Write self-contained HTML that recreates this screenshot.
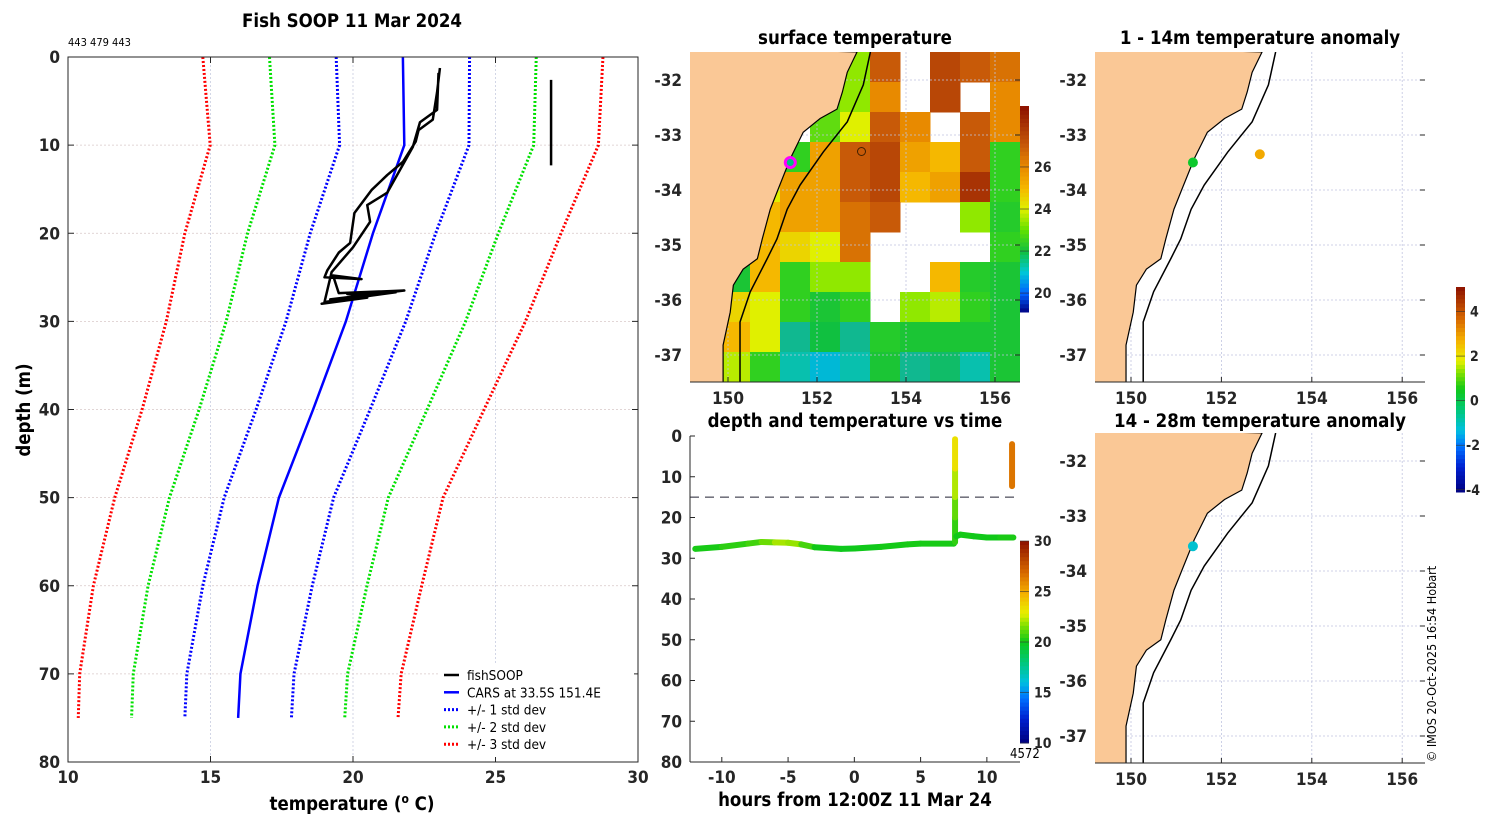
<!DOCTYPE html>
<html><head><meta charset="utf-8"><style>
html,body{margin:0;padding:0;background:#fff;}
svg{display:block;font-family:"DejaVu Sans Condensed","DejaVu Sans","Liberation Sans",sans-serif;}
.tk{font-size:17px;font-weight:bold;fill:#262626;}
.ti{font-size:18.5px;font-weight:bold;fill:#000;}
</style></head><body>
<svg id="fig" width="1500" height="820" viewBox="0 0 1500 820" xmlns="http://www.w3.org/2000/svg">
<rect width="1500" height="820" fill="#fff"/>
<g id="p1"></g>
<g id="p2"></g>
<g id="p3"></g>
<g id="p4"></g>
<g id="p5"></g>
<text x="352" y="27" text-anchor="middle" class="ti">Fish SOOP 11 Mar 2024</text>
<text x="68" y="46" font-size="11">443 479 443</text>
<text x="855" y="44" text-anchor="middle" class="ti">surface temperature</text>
<text x="1260" y="44" text-anchor="middle" class="ti">1 - 14m temperature anomaly</text>
<text x="855" y="427" text-anchor="middle" class="ti">depth and temperature vs time</text>
<text x="1260" y="427" text-anchor="middle" class="ti">14 - 28m temperature anomaly</text>
<text transform="translate(30,410) rotate(-90)" text-anchor="middle" class="ti">depth (m)</text>
<text x="352" y="810" text-anchor="middle" class="ti">temperature (<tspan font-size="12" dy="-7">o</tspan><tspan dy="7"> C)</tspan></text>
<text x="855" y="806" text-anchor="middle" class="ti">hours from 12:00Z 11 Mar 24</text>
<text transform="translate(1436,762) rotate(-90)" font-size="12.5" fill="#000">© IMOS 20-Oct-2025 16:54 Hobart</text>
</svg>
<script>
// ---------- data ----------
const carsDepth=[0,10,20,30,40,50,60,70,75];
const carsMean=[21.75,21.8,20.7,19.75,18.6,17.4,16.65,16.05,15.97];
const carsStd=[2.34,2.27,2.2,2.1,2.0,1.92,1.92,1.88,1.87];
const fishT=[23.05,22.95,22.8,22.3,22.2,21.75,21.2,20.65,20.05,19.9,19.5,19.1,19.0,20.3,19.3,19.5,21.8,19.2,21.0,18.9,20.5,19.8,21.5,19.0,19.25,20.0,20.6,20.5,21.2,22.1,22.35,22.95,23.0];
const fishD=[1.25,4.0,7.1,8.3,9.6,11.9,13.4,15.1,17.7,21.1,22.2,24.2,25.0,25.2,24.8,26.8,26.5,27.5,26.8,28.0,27.3,26.9,26.7,27.8,24.4,21.6,18.7,16.8,15.4,10.2,7.4,6.0,1.8];
const fish2T=[26.95,26.95];
const fish2D=[2.6,12.3];
const tempTicks=[10,15,20,25,30];
const depthTicks=[0,10,20,30,40,50,60,70,80];
const coastLon=[152.9,152.68,152.57,152.45,152.07,151.69,151.4,151.13,150.95,150.77,150.66,150.34,150.12,150.05,149.89,149.89];
const coastLat=[-31.49,-31.86,-32.22,-32.53,-32.7,-32.95,-33.43,-33.98,-34.35,-34.89,-35.25,-35.44,-35.73,-36.22,-36.82,-37.5];
const shelfLon=[153.2,153.04,152.68,152.14,151.62,151.33,151.1,150.88,150.5,150.27,150.27];
const shelfLat=[-31.49,-32.09,-32.76,-33.31,-33.91,-34.35,-34.89,-35.25,-35.85,-36.4,-37.5];
const lonTicks=[150,152,154,156];
const latTicks=[-32,-33,-34,-35,-36,-37];
const sstGrid=[
[null,null,null,null,null,23,27,null,27.5,27,26.5],
[null,null,null,null,22.5,23,26,null,27.5,null,26],
[null,null,null,null,22.5,24,27,26,null,27,26],
[null,null,null,22,25.5,27,27.5,25.5,25,27,22],
[null,null,24,25.5,25.5,27,27.5,25,25.5,28,22],
[null,null,25,25.5,25.5,26.5,27,null,null,23,21.5],
[null,null,25,24.5,24,26.5,null,null,null,null,22],
[null,21,25,22,23,23,null,null,25,21.5,21],
[null,24.5,24,22,21,22,null,23,23.5,22,21],
[null,25,24,19.5,20.5,19.5,21.5,21,21,21,21],
[null,23.5,22,19,18,19,21,19.5,20,19,21]];
const sstTicks=[20,22,24,26];
const anomTicks=[-4,-2,0,2,4];
const anom1Lon=[151.37,152.85], anom1Lat=[-33.5,-33.35], anom1Val=[0.3,2.8];
const anom2Lon=[151.37], anom2Lat=[-33.55], anom2Val=[-1.2];
const hrTicks=[-10,-5,0,5,10];
const tdTicks=[0,10,20,30,40,50,60,70,80];
const tcTicks=[10,15,20,25,30];
const trkH=[-12,-10,-8,-7,-6,-5,-4,-3,-1,0,2,4,5,7.5,7.6,7.6,7.6,7.6,7.6];
const trkD=[27.7,27.2,26.4,26.0,26.1,26.2,26.6,27.3,27.7,27.6,27.2,26.6,26.4,26.4,26.0,20,15,8,0.8];
const trkT=[20.0,20.2,20.6,20.8,21.8,22.3,21.4,20.1,19.9,19.9,20.0,20.1,20.1,20.1,20.1,20.8,21.5,22.8,23.8];
const trk2H=[7.7,8.0,9,10,11,12];
const trk2D=[24.6,24.2,24.6,24.9,24.9,24.9];
const trk2T=[19.9,20.1,20.0,19.9,20.1,20.2];
const trk3H=[11.9,11.9];
const trk3D=[2,12.3];
const trk3T=[26.5,26.5];

// ---------- helpers ----------
const NS='http://www.w3.org/2000/svg';
function el(tag,attrs,parent){const e=document.createElementNS(NS,tag);for(const k in attrs)e.setAttribute(k,attrs[k]);parent.appendChild(e);return e;}
function hex(h){return [parseInt(h.substr(1,2),16),parseInt(h.substr(3,2),16),parseInt(h.substr(5,2),16)];}
const cmapStops=[[0,'#00007f'],[0.12,'#0020d0'],[0.22,'#0070ff'],[0.3,'#00c0e0'],[0.4,'#00c878'],[0.5,'#10c818'],[0.58,'#80e000'],[0.64,'#e8f000'],[0.74,'#f5b000'],[0.84,'#d86a00'],[1,'#8c1000']];
const sstBarStops=[[19.1,'#000080'],[20,'#0060ff'],[21,'#00c8d8'],[22,'#10c040'],[23,'#60e000'],[24,'#e0f000'],[25,'#f5b800'],[26,'#e88a00'],[27,'#c85a08'],[28.9,'#8c1000']];
const sstStops=[[17.5,'#00a8e0'],[18.5,'#00c8cc'],[19.5,'#10b890'],[20.5,'#10c040'],[22,'#30d020'],[23,'#90e800'],[24,'#e0f000'],[25,'#f5b800'],[26,'#e88a00'],[27,'#c85a08'],[28.9,'#8c1000']];
function interp(stops,v){if(v<=stops[0][0])return stops[0][1];for(let i=1;i<stops.length;i++){if(v<=stops[i][0]){const a=stops[i-1],b=stops[i];const f=(v-a[0])/(b[0]-a[0]);const ca=hex(a[1]),cb=hex(b[1]);return 'rgb('+ca.map((c,j)=>Math.round(c+(cb[j]-c)*f)).join(',')+')';}}return stops[stops.length-1][1];}
function cmap(t){return interp(cmapStops,t);}

// ---------- panel 1 ----------
(function(){
const g=document.getElementById('p1');
const L=68,R=638,T=57,B=762;
const x=v=>L+(v-10)/20*(R-L), y=d=>T+d/80*(B-T);
tempTicks.forEach(v=>{const l=el('line',{x1:x(v),x2:x(v),y1:T,y2:B,stroke:'#c8cce0','stroke-width':0.8,'stroke-dasharray':'2,2'},g);});
depthTicks.forEach(v=>{const l=el('line',{x1:L,x2:R,y1:y(v),y2:y(v),stroke:'#d8c8c8','stroke-width':0.8,'stroke-dasharray':'2,2'},g);});
const stdCols=['#0000ff','#00e000','#ff0000'];
[1,2,3].forEach((k,i)=>{[-1,1].forEach(s=>{const pts=carsDepth.map((d,j)=>x(carsMean[j]+s*k*carsStd[j])+','+y(d)).join(' ');const p=el('polyline',{points:pts,fill:'none',stroke:stdCols[i],'stroke-width':3,'stroke-dasharray':'2,2'},g);});});
const m=el('polyline',{points:carsDepth.map((d,j)=>x(carsMean[j])+','+y(d)).join(' '),fill:'none',stroke:'#0000ff','stroke-width':2.5},g);

const f=el('polyline',{points:fishT.map((t,j)=>x(t)+','+y(fishD[j])).join(' '),fill:'none',stroke:'#000','stroke-width':2.5,'stroke-linejoin':'round'},g);

const f2=el('polyline',{points:fish2T.map((t,j)=>x(t)+','+y(fish2D[j])).join(' '),fill:'none',stroke:'#000','stroke-width':2.5},g);

const fr=el('rect',{x:L,y:T,width:R-L,height:B-T,fill:'none',stroke:'#262626','stroke-width':1},g);

tempTicks.forEach(v=>{el('line',{x1:x(v),x2:x(v),y1:B,y2:B-6,stroke:'#262626'},g);el('line',{x1:x(v),x2:x(v),y1:T,y2:T+6,stroke:'#262626'},g);const t=el('text',{x:x(v),y:B+21,'text-anchor':'middle',class:'tk'},g);t.textContent=v;});
depthTicks.forEach(v=>{el('line',{x1:L,x2:L+6,y1:y(v),y2:y(v),stroke:'#262626'},g);el('line',{x1:R,x2:R-6,y1:y(v),y2:y(v),stroke:'#262626'},g);const t=el('text',{x:L-8,y:y(v)+6,'text-anchor':'end',class:'tk'},g);t.textContent=v;});
const lg=el('g',{},g);
el('rect',{x:438,y:664,width:196,height:93,fill:'#fff'},lg);
const items=[['fishSOOP','#000',''],['CARS at 33.5S 151.4E','#0000ff',''],['+/- 1 std dev','#0000ff','2,2'],['+/- 2 std dev','#00e000','2,2'],['+/- 3 std dev','#ff0000','2,2']];
items.forEach((it,i)=>{const yy=675+i*17.3;const e=el('g',{},lg);el('line',{x1:444,x2:459,y1:yy,y2:yy,stroke:it[1],'stroke-width':it[2]?3:2.5,'stroke-dasharray':it[2]||'none'},e);const t=el('text',{x:467,y:yy+5,'font-size':13.5,fill:'#000'},e);t.textContent=it[0];});
})();

// ---------- maps ----------
function drawMap(g,L,T,W,H,x150,pxLon,y32,name){
const x=lon=>x150+(lon-150)*pxLon, y=lat=>y32+(-32-lat)*55;
const cid='clip-'+name;
const cp=el('clipPath',{id:cid},g);el('rect',{x:L,y:T,width:W,height:H},cp);
const inner=el('g',{'clip-path':'url(#'+cid+')'},g);
return {x,y,inner,L,T,W,H};
}
function mapOverlay(m,g){
const {x,y,inner,L,T,W,H}=m;
lonTicks.forEach(v=>{const l=el('line',{x1:x(v),x2:x(v),y1:T,y2:T+H,stroke:'#c0c4e0','stroke-width':0.8,'stroke-dasharray':'2,2'},inner);});
latTicks.forEach(v=>{const l=el('line',{x1:L,x2:L+W,y1:y(v),y2:y(v),stroke:'#c0c4e0','stroke-width':0.8,'stroke-dasharray':'2,2'},inner);});
let pts=L-5+','+(T-5)+' ';coastLon.forEach((lo,i)=>pts+=x(lo)+','+y(coastLat[i])+' ');pts+=(L-5)+','+(T+H+5);
const land=el('polygon',{points:pts,fill:'#fac896',stroke:'#000','stroke-width':1.2},inner);

const sh=el('polyline',{points:shelfLon.map((lo,i)=>x(lo)+','+y(shelfLat[i])).join(' '),fill:'none',stroke:'#000','stroke-width':1.5},inner);

const ax=el('line',{x1:L,x2:L+W,y1:T+H,y2:T+H,stroke:'#262626'},g);
lonTicks.forEach(v=>{el('line',{x1:x(v),x2:x(v),y1:T+H,y2:T+H-5,stroke:'#262626'},g);const t=el('text',{x:x(v),y:T+H+22,'text-anchor':'middle',class:'tk'},g);t.textContent=v;});
latTicks.forEach(v=>{el('line',{x1:L+W,x2:L+W-5,y1:y(v),y2:y(v),stroke:'#262626'},g);const t=el('text',{x:L-8,y:y(v)+6,'text-anchor':'end',class:'tk'},g);t.textContent=v;});
}
(function(){
const g=document.getElementById('p2');
const m=drawMap(g,690,52,330,330,728,44.5,80,'sst');
const rows=sstGrid.length,cols=sstGrid[0].length,cw=330/cols,ch=330/rows;
sstGrid.forEach((row,r)=>row.forEach((v,c)=>{if(v===null)return;const rc=el('rect',{x:690+c*cw,y:52+r*ch,width:cw+0.5,height:ch+0.5,fill:interp(sstStops,v)},m.inner);}));
mapOverlay(m,g);
const d=el('circle',{cx:m.x(151.4),cy:m.y(-33.5),r:5,fill:'#00c080',stroke:'#ff00ff','stroke-width':3},g);

const d2=el('circle',{cx:m.x(153.0),cy:m.y(-33.3),r:4,fill:'none',stroke:'#402000','stroke-width':1},g);

const cb=el('g',{},g);
const y0=106,y1=312,vmin=19.1,vmax=28.9,yv=v=>y1-(v-vmin)/(vmax-vmin)*(y1-y0);
for(let i=0;i<50;i++){const v=vmin+(i+0.5)*(vmax-vmin)/50;el('rect',{x:1020,y:yv(vmin+(i+1)*(vmax-vmin)/50),width:9,height:(y1-y0)/50+0.5,fill:interp(sstBarStops,v)},cb);}
sstTicks.forEach(v=>{el('line',{x1:1020,x2:1029,y1:yv(v),y2:yv(v),stroke:'#333','stroke-width':0.6},cb);const t=el('text',{x:1034,y:yv(v)+5,class:'tk'},cb);t.setAttribute('style','font-size:14px');t.textContent=v;});
})();
function anomMap(id,T,lons,lats,vals,name){
const g=document.getElementById(id);
const m=drawMap(g,1095,T,330,330,1131,45.2,T+28,name);
mapOverlay(m,g);
lons.forEach((lo,i)=>{const c=el('circle',{cx:m.x(lo),cy:m.y(lats[i]),r:5,fill:cmap((vals[i]+4.1)/9.2)},g);});
}
anomMap('p3',52,anom1Lon,anom1Lat,anom1Val,'a1');
anomMap('p4',433,anom2Lon,anom2Lat,anom2Val,'a2');
(function(){
const g=document.getElementById('p3');
const cb=el('g',{},g);
const y0=287,y1=492,vmin=-4.1,vmax=5.1,yv=v=>y1-(v-vmin)/(vmax-vmin)*(y1-y0);
for(let i=0;i<50;i++){el('rect',{x:1456,y:y0+i*(y1-y0)/50,width:9,height:(y1-y0)/50+0.5,fill:cmap(1-(i+0.5)/50)},cb);}
anomTicks.forEach(v=>{el('line',{x1:1456,x2:1465,y1:yv(v),y2:yv(v),stroke:'#333','stroke-width':0.6},cb);const t=el('text',{x:v<0?1466:1470,y:yv(v)+5,class:'tk'},cb);t.setAttribute('style','font-size:14px');t.textContent=v;});
})();

// ---------- depth vs time ----------
(function(){
const g=document.getElementById('p5');
const L=690,R=1020,T=436,B=762;
const x=h=>L+(h+12.4)/24.9*(R-L), y=d=>T+d/80*(B-T);
const tc=v=>cmap((v-10)/20);
const ml=el('line',{x1:L,x2:R,y1:y(15),y2:y(15),stroke:'#223','stroke-width':1,'stroke-dasharray':'9,6'},g);

function track(H,D,Tm,nm){const tg=el('g',{},g);
for(let i=0;i<H.length-1;i++){el('line',{x1:x(H[i]),y1:y(D[i]),x2:x(H[i+1]),y2:y(D[i+1]),stroke:tc((Tm[i]+Tm[i+1])/2),'stroke-width':6,'stroke-linecap':'round'},tg);}}
track(trkH,trkD,trkT,'track-main');track(trk2H,trk2D,trk2T,'track-after');track(trk3H,trk3D,trk3T,'track-profile-2');
el('line',{x1:L,x2:L,y1:T,y2:B,stroke:'#262626'},g);el('line',{x1:L,x2:R,y1:B,y2:B,stroke:'#262626'},g);
hrTicks.forEach(v=>{el('line',{x1:x(v),x2:x(v),y1:B,y2:B-5,stroke:'#262626'},g);const t=el('text',{x:x(v),y:B+21,'text-anchor':'middle',class:'tk'},g);t.textContent=v;});
tdTicks.forEach(v=>{el('line',{x1:L,x2:L+5,y1:y(v),y2:y(v),stroke:'#262626'},g);const t=el('text',{x:L-8,y:y(v)+6,'text-anchor':'end',class:'tk'},g);t.textContent=v;});
const cb=el('g',{},g);
const y0=541,y1=743,yv=v=>y1-(v-10)/20*(y1-y0);
for(let i=0;i<50;i++){el('rect',{x:1020,y:y0+i*(y1-y0)/50,width:9,height:(y1-y0)/50+0.5,fill:cmap(1-(i+0.5)/50)},cb);}
tcTicks.forEach(v=>{el('line',{x1:1020,x2:1029,y1:yv(v),y2:yv(v),stroke:'#333','stroke-width':0.6},cb);const t=el('text',{x:1034,y:yv(v)+5,class:'tk'},cb);t.setAttribute('style','font-size:14px');t.textContent=v;});
const n=el('text',{x:1010,y:758,'font-size':13,fill:'#000'},g);n.textContent='4572';
})();
</script>
</body></html>
